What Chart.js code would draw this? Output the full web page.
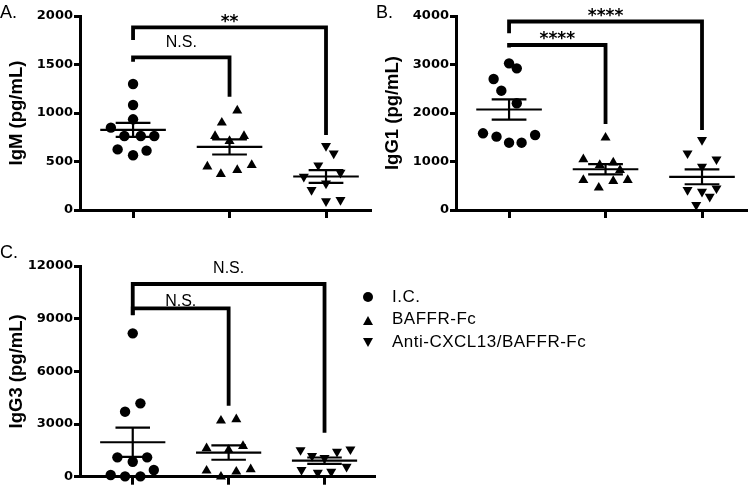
<!DOCTYPE html>
<html><head><meta charset="utf-8">
<script src="https://cdn.jsdelivr.net/npm/chart.js@4.4.0/dist/chart.umd.min.js"></script>
<style>
html,body{margin:0;padding:0;background:#fff;}
body{width:752px;height:491px;position:relative;overflow:hidden;font-family:"Liberation Sans",Arial,sans-serif;color:#000;}
canvas{position:absolute;}
.plab{position:absolute;font-size:18px;line-height:1;white-space:nowrap;}
.ltxt{position:absolute;font-size:17px;line-height:1;letter-spacing:0.5px;white-space:nowrap;}
.dot{position:absolute;width:10px;height:10px;border-radius:50%;background:#000;}
.tup{position:absolute;width:0;height:0;border-left:5px solid transparent;border-right:5px solid transparent;border-bottom:9px solid #000;}
.tdn{position:absolute;width:0;height:0;border-left:5px solid transparent;border-right:5px solid transparent;border-top:9px solid #000;}
</style>
</head><body>
<canvas id="cA" width="376" height="240" style="left:0;top:0"></canvas>
<canvas id="cB" width="376" height="240" style="left:376px;top:0"></canvas>
<canvas id="cC" width="380" height="251" style="left:0;top:240px"></canvas>
<div class="plab" style="left:0;top:2.6px">A.</div>
<div class="plab" style="left:376px;top:2.6px">B.</div>
<div class="plab" style="left:0;top:242.6px">C.</div>
<div class="dot" style="left:363px;top:292px"></div>
<div class="tup" style="left:363px;top:315.5px"></div>
<div class="tdn" style="left:363px;top:337.5px"></div>
<div class="ltxt" id="lg0" style="left:392px;top:287.7px"></div>
<div class="ltxt" id="lg1" style="left:392px;top:309.7px"></div>
<div class="ltxt" id="lg2" style="left:392px;top:333.2px"></div>
<script>
// ---------- data ----------
const groups = ['I.C.', 'BAFFR-Fc', 'Anti-CXCL13/BAFFR-Fc'];

const igM_IC    = [1299, 1082, 935, 849, 763, 763, 763, 625, 612, 564];
const igM_BAFFR = [1024, 900, 711, 763, 763, 447, 464, 371, 412];
const igM_Anti  = [660, 584, 461, 385, 344, 275, 206, 90, 103];

const igG1_IC    = [3024, 2921, 2701, 2460, 2200, 1581, 1512, 1546, 1388, 1388];
const igG1_BAFFR = [1491, 1045, 976, 928, 825, 619, 598, 619, 460];
const igG1_Anti  = [1443, 1169, 1045, 893, 412, 378, 447, 275, 103];

const igG3_IC    = [8165, 4177, 3703, 1101, 1101, 854, 380, 95, 20, 20];
const igG3_BAFFR = [3190, 3266, 1614, 1747, 1519, 342, 285, 418, 0];
const igG3_Anti  = [1519, 1178, 1064, 1423, 1560, 381, 228, 285, 569];

// horizontal scatter (in category units) as seen in the picture
const jitM  = [[0,0,0,-0.23,-0.09,0.08,0.22,-0.16,0.14,0],
               [0.08,-0.08,0,-0.15,0.15,-0.23,0.23,-0.09,0.08],
               [0,0.08,-0.08,0.15,-0.23,0,-0.15,0,0.15]];
const jitG1 = [[0,0.08,-0.16,-0.08,0.08,-0.27,-0.13,0.27,0,0.13],
               [0,-0.23,0.08,-0.06,0.15,-0.23,0.08,0.23,-0.07],
               [0,-0.15,0.15,0,-0.15,0,0.15,0.08,-0.06]];
const jitG3 = [[0,0.08,-0.08,-0.16,0.15,0,0.22,-0.23,-0.08,0.08],
               [-0.08,0.08,-0.23,0.15,0,-0.23,0.08,0.23,-0.08],
               [-0.25,-0.13,0,0.13,0.27,-0.24,-0.07,0.07,0.23]];

const yMaxA = 2000, yStepA = 500;
const yMaxB = 4000, yStepB = 1000;
const yMaxC = 12000, yStepC = 3000;

// significance brackets: [from group, to group, left foot, top, right foot]
const bracketsA = [[0, 2, 1753, 1883, 773], [0, 1, 1529, 1574, 1168]];
const bracketsB = [[0, 2, 3643, 3887, 1650], [0, 1, 3350, 3402, 1773]];
const bracketsC = [[0, 2, 9196, 10975, 2506], [0, 1, 9209, 9589, 4044]];
// significance labels: [x (category units), y value, text]
const sigA = [[1, 1976, '**'], [0.5, 1742, 'N.S.']];
const sigB = [[1, 4062, '****'], [0.5, 3608, '****']];
const sigC = [[1, 11915, 'N.S.'], [0.5, 10092, 'N.S.']];

document.getElementById('lg0').textContent = groups[0];
document.getElementById('lg1').textContent = groups[1];
document.getElementById('lg2').textContent = groups[2];

// ---------- helpers ----------
function mean(a){ return a.reduce((s,v)=>s+v,0)/a.length; }
function sem(a){ const m=mean(a); const v=a.reduce((s,x)=>s+(x-m)*(x-m),0)/(a.length-1); return Math.sqrt(v/a.length); }

const styles = [
  {pointStyle:'circle', pointRadius:5.2, pointRotation:0},
  {pointStyle:'triangle', pointRadius:5.8, pointRotation:0},
  {pointStyle:'triangle', pointRadius:5.8, pointRotation:180}
];

function buildDatasets(series, jit, brackets){
  const ds = [];
  series.forEach((vals, g) => {
    ds.push(Object.assign({
      label: groups[g],
      data: vals.map((v,i)=>({x:g+jit[g][i], y:v})),
      backgroundColor:'#000', borderColor:'#000', borderWidth:0,
      showLine:false, clip:false, order:2
    }, styles[g]));
    const m = mean(vals), s = sem(vals);
    const lineBase = {borderColor:'#000', borderWidth:2.2, pointRadius:0, showLine:true, clip:false, order:1, tension:0, borderCapStyle:'butt'};
    ds.push(Object.assign({data:[{x:g-0.34,y:m},{x:g+0.34,y:m}]}, lineBase));
    ds.push(Object.assign({data:[{x:g-0.18,y:m+s},{x:g+0.18,y:m+s}]}, lineBase));
    ds.push(Object.assign({data:[{x:g-0.18,y:m-s},{x:g+0.18,y:m-s}]}, lineBase));
    ds.push(Object.assign({data:[{x:g,y:m-s},{x:g,y:m+s}]}, lineBase));
  });
  brackets.forEach(b => {
    ds.push({data:[{x:b[0],y:b[2]},{x:b[0],y:b[3]},{x:b[1],y:b[3]},{x:b[1],y:b[4]}],
      borderColor:'#000', borderWidth:3.8, pointRadius:0, showLine:true, clip:false, tension:0,
      borderJoinStyle:'miter', borderCapStyle:'butt', order:0});
  });
  return ds;
}

const sigPlugin = {
  id:'sig',
  afterDatasetsDraw(chart, args, opts){
    const ctx = chart.ctx, x = chart.scales.x, y = chart.scales.y;
    ctx.save();
    ctx.fillStyle = '#000';
    ctx.textAlign = 'center';
    ctx.textBaseline = 'alphabetic';
    (opts.labels||[]).forEach(l => {
      const star = l[2].indexOf('*') >= 0;
      ctx.font = star ? 'bold 17px "DejaVu Sans"' : '16px "Liberation Sans"';
      const mt = ctx.measureText(l[2]);
      const px = x.getPixelForValue(l[0]);
      const py = y.getPixelForValue(l[1]) + (mt.actualBoundingBoxAscent - mt.actualBoundingBoxDescent)/2;
      ctx.fillText(l[2], px, py);
    });
    ctx.restore();
  }
};

function makeChart(id, series, jit, brackets, sig, yMax, yStep, yTitle, pad, xMax, xHeight){
  return new Chart(document.getElementById(id), {
    type:'scatter',
    data:{datasets: buildDatasets(series, jit, brackets)},
    plugins:[sigPlugin],
    options:{
      responsive:false, animation:false, devicePixelRatio:1,
      layout:{padding:pad},
      plugins:{legend:{display:false}, tooltip:{enabled:false}, sig:{labels:sig}},
      scales:{
        x:{type:'linear', min:-0.55, max:xMax,
          afterBuildTicks(s){ s.ticks = [0,1,2].map(v=>({value:v})); },
          ticks:{display:false},
          grid:{drawOnChartArea:false, color:'#000', lineWidth:3, tickLength:8},
          border:{color:'#000', width:3},
          afterFit(s){ s.height = xHeight; }
        },
        y:{min:0, max:yMax,
          ticks:{stepSize:yStep, color:'#000', padding:1, callback:(v)=>String(v),
                 font:{family:'DejaVu Sans', weight:'bold', size:13}},
          grid:{drawOnChartArea:false, color:'#000', lineWidth:3, tickLength:6},
          border:{color:'#000', width:3},
          title:{display:true, text:yTitle, color:'#000', padding:{top:5.5,bottom:0}, font:{family:'Liberation Sans', weight:'bold', size:18.5}},
          afterFit(s){ s.width = 80; }
        }
      }
    }
  });
}

makeChart('cA', [igM_IC, igM_BAFFR, igM_Anti], jitM, bracketsA, sigA, yMaxA, yStepA, 'IgM (pg/mL)',
  {top:16, right:6, left:0, bottom:0}, 2.456, 30);
makeChart('cB', [igG1_IC, igG1_BAFFR, igG1_Anti], jitG1, bracketsB, sigB, yMaxB, yStepB, 'IgG1 (pg/mL)',
  {top:16, right:6, left:0, bottom:0}, 2.456, 30);
makeChart('cC', [igG3_IC, igG3_BAFFR, igG3_Anti], jitG3, bracketsC, sigC, yMaxC, yStepC, 'IgG3 (pg/mL)',
  {top:26, right:4, left:0, bottom:0}, 2.518, 14.3);
</script>
</body></html>
